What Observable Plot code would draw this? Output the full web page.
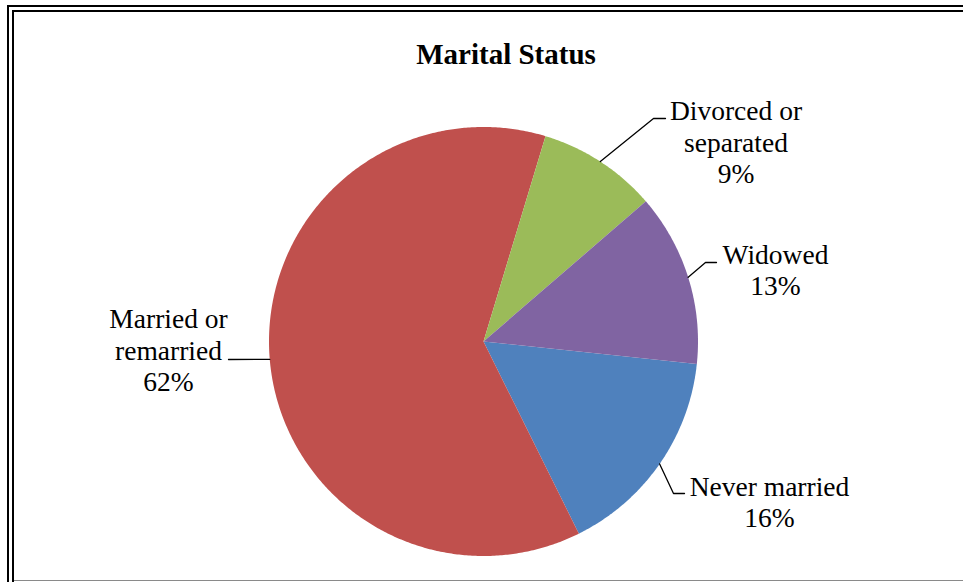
<!DOCTYPE html>
<html><head><meta charset="utf-8">
<script src="https://cdn.jsdelivr.net/npm/d3@7"></script>
<script src="https://cdn.jsdelivr.net/npm/@observablehq/plot@0.6"></script>
<style>
body{margin:0;background:#fff;}
#wrap{position:relative;width:963px;height:582px;overflow:hidden;background:#fff;}
.b{position:absolute;pointer-events:none;z-index:2;box-sizing:content-box;}
#chart{position:absolute;left:0;top:0;}
</style></head><body>
<div id="wrap">
  <div id="chart"></div>
  <div class="b" style="left:7px;top:5px;width:2000px;height:2000px;border-left:2.4px solid #000;border-top:2.4px solid #000;"></div>
  <div class="b" style="left:12px;top:10px;width:2000px;height:2000px;border-left:2.4px solid #000;border-top:2.4px solid #000;"></div>
  <div class="b" style="left:14px;top:580px;width:2000px;height:1px;background:#8a8a8a;"></div>
</div>
<script>
// ---- data ----
const title = "Marital Status";
const categories = ["Never married", "Married or remarried", "Divorced or separated", "Widowed"];
const labelNames = ["Never married", "Married or\nremarried", "Divorced or\nseparated", "Widowed"];
const values = [16, 62, 9, 13];

// ---- styles / layout ----
const colors = ["#4F81BD", "#C0504D", "#9BBB59", "#8064A2"];
const pieGeom = {cx: 483, cy: 341, r: 214.5, startDeg: 96};
const labelPos = [{x: 769, y: 526.5}, {x: 168, y: 390.5}, {x: 735.5, y: 182.5}, {x: 775, y: 294.5}];
const leaderPts = [[[673, 493], [684, 493]], [[228, 359]], [[653, 118], [665, 118]], [[705, 262], [716, 262]]];
const titlePos = {x: 505.5, y: 63};

const rad = d => d * Math.PI / 180;
const arcs = d3.pie().sort(null).value(d => d)
  .startAngle(rad(pieGeom.startDeg)).endAngle(rad(pieGeom.startDeg + 360))(values);
const pt = a => [pieGeom.cx + pieGeom.r * Math.sin(a), pieGeom.cy - pieGeom.r * Math.cos(a)];

const pieRows = [];
arcs.forEach((a, i) => {
  const k = categories[i];
  pieRows.push({k, x: pieGeom.cx, y: pieGeom.cy});
  const n = Math.max(2, Math.ceil((a.endAngle - a.startAngle) / rad(0.5)));
  for (let j = 0; j <= n; j++) {
    const t = a.startAngle + (a.endAngle - a.startAngle) * j / n;
    const [x, y] = pt(t);
    pieRows.push({k, x, y});
  }
  pieRows.push({k, x: pieGeom.cx, y: pieGeom.cy});
});

const leaderRows = [];
arcs.forEach((a, i) => {
  const k = categories[i];
  const [x0, y0] = pt((a.startAngle + a.endAngle) / 2);
  leaderRows.push({k, x: x0, y: y0});
  leaderPts[i].forEach(([x, y]) => leaderRows.push({k, x, y}));
});

const labelRows = categories.map((k, i) => ({
  k, x: labelPos[i].x, y: labelPos[i].y, text: `${labelNames[i]}\n${values[i]}%`
}));

const chart = Plot.plot({
  width: 963, height: 582, margin: 0,
  style: {background: "transparent"},
  x: {domain: [0, 963], range: [0, 963], axis: null},
  y: {domain: [0, 582], range: [0, 582], axis: null},
  color: {domain: categories, range: colors},
  marks: [
    Plot.line(pieRows, {x: "x", y: "y", z: "k", fill: "k", stroke: "none", curve: "linear"}),
    Plot.line(leaderRows, {x: "x", y: "y", z: "k", stroke: "#000", strokeWidth: 1.3}),
    Plot.text(labelRows, {x: "x", y: "y", text: "text", lineAnchor: "bottom", textAnchor: "middle",
      fontSize: 27.5, lineHeight: 1.145, fontFamily: "Liberation Serif", fill: "#000"}),
    Plot.text([title], {x: () => titlePos.x, y: () => titlePos.y, text: d => d, lineAnchor: "bottom",
      textAnchor: "middle", fontSize: 29, fontWeight: "bold", fontFamily: "Liberation Serif", fill: "#000"})
  ]
});
document.getElementById("chart").appendChild(chart);
</script>
</body></html>
